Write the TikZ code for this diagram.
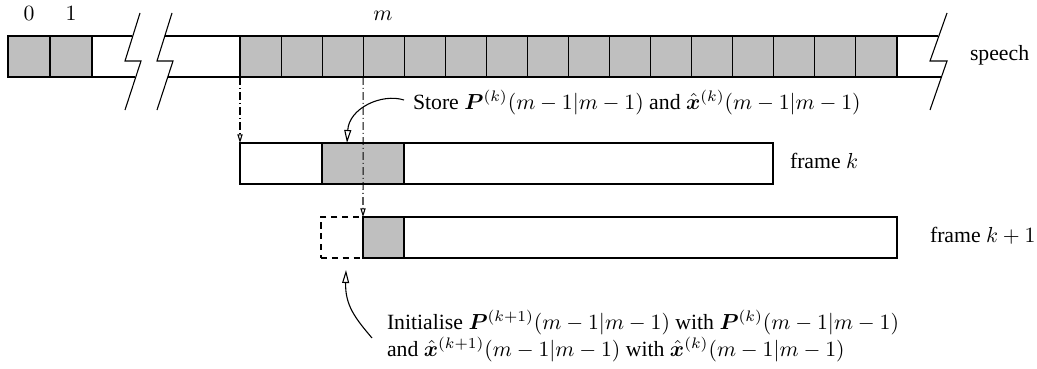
\documentclass[tikz,border=0pt]{standalone}
\usepackage{amsmath,bm}
\usepackage{fontspec}
\setmainfont{Liberation Serif}
\usetikzlibrary{arrows.meta}
\definecolor{cellgray}{RGB}{191,191,191}
\tikzset{
  ln/.style={line width=0.5pt},
  gcell/.style={ln, draw, fill=cellgray, anchor=north west, inner sep=0pt, outer sep=0pt,
     minimum height={41*0.46pt}, minimum width={#1*0.46pt}},
  wbox/.style={ln, draw, fill=white, anchor=north west, inner sep=0pt, outer sep=0pt,
     minimum height={41*0.46pt}, minimum width={#1*0.46pt}},
  dbox/.style={ln, draw, dash pattern=on 2.8pt off 2.2pt, anchor=north west, inner sep=0pt, outer sep=0pt,
     minimum height={41*0.46pt}, minimum width={#1*0.46pt}},
  dd/.style={ln, dash pattern=on 3.6pt off 1.4pt on 0.5pt off 1.4pt,
     -{Triangle[open,length=4pt,width=2.4pt]}},
  bigarrow/.style={ln, -{Triangle[open,length=6pt,width=3.2pt,fill=white]}},
  lbl/.style={inner sep=0pt, outer sep=0pt, font=\fontsize{10}{12}\selectfont},
}
\begin{document}
\begin{tikzpicture}[x=0.46pt, y=-0.46pt]
\useasboundingbox (0,0) rectangle (1037,368);
% speech strip
\node[gcell=42] (s0) at (8,36) {};
\node[gcell=42] (s1) at (50,36) {};
\draw[ln] (92,36) -- (132,36);
\draw[ln] (92,77) -- (135,77);
\draw[ln] (140,13) -- (125,61) -- (141,61) -- (125,110);
\draw[ln] (172,13) -- (157,61) -- (173,61) -- (157,110);
\draw[ln] (165,36) -- (240,36);
\draw[ln] (168,77) -- (240,77);
\foreach \i in {1,...,16} {
  \node[gcell=41.06] (g\i) at ({240+41.06*(\i-1)},36) {};
}
\draw[ln] (897,36) -- (938,36);
\draw[ln] (897,77) -- (941,77);
\draw[ln] (947,13) -- (930,61) -- (947,61) -- (930,110);
\node[lbl, anchor=base] (l0) at (29,20) {$0$};
\node[lbl, anchor=base] (l1) at (71,20) {$1$};
\node[lbl, anchor=base] (lm) at (383,20) {$m$};
\node[lbl, anchor=base west] (speech) at (970,60) {speech};
% frame k
\node[wbox=533] (fk) at (240,143) {};
\node[gcell=82] (fkg) at (322,143) {};
\node[lbl, anchor=base west] (fkl) at (790,168) {frame $k$};
% frame k+1
\node[dbox=42] (fkd) at (321,217) {};
\node[wbox=534] (fk1) at (363,217) {};
\node[gcell=41] (fk1g) at (363,217) {};
\node[lbl, anchor=base west] (fk1l) at (930,242) {frame $k+1$};
% dash-dot connectors
\draw[dd] (g1.south west) -- (fk.north west);
\draw[dd] (g4.south west) -- (fk1.north west);
% store text and arrow
\node[lbl, anchor=base west] (store) at (413,109)
  {Store $\bm{P}^{(k)}(m-1|m-1)$ and $\hat{\bm{x}}^{(k)}(m-1|m-1)$};
\coordinate (storestart) at (404,100);
\coordinate (storetip) at (347,143);
\draw[bigarrow] (storestart) .. controls (382,93) and (349,108) .. (storetip);
% init text and arrow
\node[lbl, anchor=base west] (initA) at (387,329)
  {Initialise $\bm{P}^{(k+1)}(m-1|m-1)$ with $\bm{P}^{(k)}(m-1|m-1)$};
\node[lbl, anchor=base west] (initB) at (387,356)
  {and $\hat{\bm{x}}^{(k+1)}(m-1|m-1)$ with $\hat{\bm{x}}^{(k)}(m-1|m-1)$};
\coordinate (initstart) at (372,338);
\coordinate (inittip) at (346,270);
\draw[bigarrow] (initstart) .. controls (355,318) and (345,305) .. (inittip);
\end{tikzpicture}
\end{document}
